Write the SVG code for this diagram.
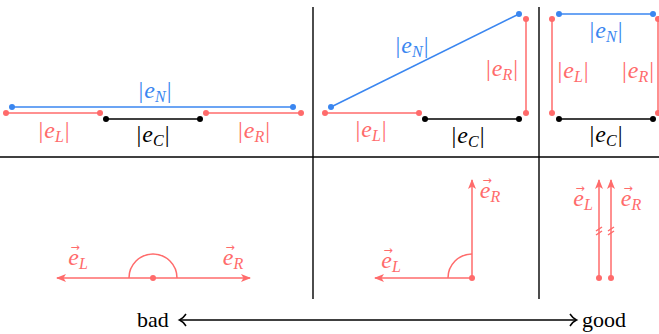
<svg xmlns="http://www.w3.org/2000/svg" width="659" height="334" viewBox="0 0 659 334">
<style>
.frame{stroke:#000;stroke-width:1.4;fill:none}
.b{stroke:#3a86f0;stroke-width:1.5;fill:none}
.r{stroke:#ff6b6b;stroke-width:1.5;fill:none}
.k{stroke:#000;stroke-width:1.5;fill:none}
.db{fill:#3a86f0}
.dr{fill:#ff6b6b}
.dk{fill:#000}
.lab{font-family:"Liberation Serif","DejaVu Serif",serif;font-size:24px;text-anchor:middle}
.i{font-style:italic}
.s{font-style:italic;font-size:16px}
.tb{fill:#3a86f0}
.tr{fill:#ff6b6b}
.tk{fill:#000}
.arr{font-family:"DejaVu Sans",sans-serif;font-size:11px;fill:#ff6b6b;text-anchor:middle}
.word{font-family:"Liberation Serif",serif;font-size:22px;fill:#000}
.va{stroke:#ff6b6b;stroke-width:1.5;fill:none;marker-end:url(#st)}
</style>
<defs>
<marker id="st" viewBox="0 0 10 8" refX="9" refY="4" markerWidth="10" markerHeight="8" markerUnits="userSpaceOnUse" orient="auto">
<path d="M0,0 L10,4 L0,8 L2.5,4 Z" fill="#ff6b6b"/>
</marker>
</defs>

<g id="grid">
<line class="frame" x1="0" y1="157" x2="659" y2="157"/>
<line class="frame" x1="313" y1="7" x2="313" y2="299"/>
<line class="frame" x1="539" y1="7" x2="539" y2="299"/>
</g>

<g id="connectors">
<line class="b" x1="12" y1="107" x2="293" y2="107"/>
<line class="r" x1="6" y1="113" x2="100" y2="113"/>
<line class="r" x1="206" y1="113" x2="301" y2="113"/>
<line class="k" x1="106" y1="119" x2="200" y2="119"/>
<line class="b" x1="331" y1="107" x2="519" y2="14"/>
<line class="r" x1="325" y1="113" x2="419" y2="113"/>
<line class="k" x1="425" y1="119" x2="519" y2="119"/>
<line class="r" x1="526" y1="19" x2="526" y2="113"/>
<line class="b" x1="559" y1="14" x2="653" y2="14"/>
<line class="r" x1="552" y1="19" x2="552" y2="113"/>
<line class="r" x1="658" y1="19" x2="658" y2="113"/>
<line class="k" x1="559" y1="119" x2="653" y2="119"/>
<line class="va" x1="153" y1="278" x2="57" y2="278"/>
<line class="va" x1="153" y1="278" x2="250" y2="278"/>
<path class="r" d="M129,278 A24,24 0 0 1 177,278"/>
<line class="va" x1="472" y1="278" x2="375" y2="278"/>
<line class="va" x1="472" y1="278" x2="472" y2="180"/>
<path class="r" d="M448,278 A24,24 0 0 1 472,254"/>
<line class="va" x1="599" y1="278" x2="599" y2="180"/>
<line class="va" x1="611" y1="278" x2="611" y2="180"/>
<path class="r" d="M596,231 L602,227 M596,235 L602,231 M608,231 L614,227 M608,235 L614,231" stroke-width="1.2"/>
<line class="k" x1="180" y1="320" x2="576" y2="320" stroke-width="1.3"/>
<path class="k" stroke-width="1.3" d="M186,314 Q183,318.5 179.5,320 Q183,321.5 186,326"/>
<path class="k" stroke-width="1.3" d="M570,314 Q573,318.5 576.5,320 Q573,321.5 570,326"/>
</g>

<g id="dots">
<circle class="db" cx="12" cy="107" r="3"/><circle class="db" cx="293" cy="107" r="3"/>
<circle class="dr" cx="6" cy="113" r="3"/><circle class="dr" cx="100" cy="113" r="3"/>
<circle class="dr" cx="206" cy="113" r="3"/><circle class="dr" cx="301" cy="113" r="3"/>
<circle class="dk" cx="106" cy="119" r="3"/><circle class="dk" cx="200" cy="119" r="3"/>
<circle class="db" cx="331" cy="107" r="3"/><circle class="db" cx="519" cy="14" r="3"/>
<circle class="dr" cx="325" cy="113" r="3"/><circle class="dr" cx="419" cy="113" r="3"/>
<circle class="dk" cx="425" cy="119" r="3"/><circle class="dk" cx="519" cy="119" r="3"/>
<circle class="dr" cx="526" cy="19" r="3"/><circle class="dr" cx="526" cy="113" r="3"/>
<circle class="db" cx="559" cy="14" r="3"/><circle class="db" cx="653" cy="14" r="3"/>
<circle class="dr" cx="552" cy="19" r="3"/><circle class="dr" cx="552" cy="113" r="3"/>
<circle class="dr" cx="658" cy="19" r="3"/><circle class="dr" cx="658" cy="113" r="3"/>
<circle class="dk" cx="559" cy="119" r="3"/><circle class="dk" cx="653" cy="119" r="3"/>
<circle class="dr" cx="153" cy="278" r="3"/>
<circle class="dr" cx="472" cy="278" r="3"/>
<circle class="dr" cx="599" cy="278" r="3"/><circle class="dr" cx="611" cy="278" r="3"/>
</g>

<g id="labels-p1">
<text class="lab tb" x="155" y="98">|<tspan class="i" dx="1">e</tspan><tspan class="s" dy="4">N</tspan><tspan dy="-4" dx="1">|</tspan></text>
<text class="lab tr" x="54" y="138">|<tspan class="i" dx="1">e</tspan><tspan class="s" dy="4">L</tspan><tspan dy="-4" dx="1">|</tspan></text>
<text class="lab tk" x="153" y="142">|<tspan class="i" dx="1">e</tspan><tspan class="s" dy="4">C</tspan><tspan dy="-4" dx="1">|</tspan></text>
<text class="lab tr" x="254" y="138">|<tspan class="i" dx="1">e</tspan><tspan class="s" dy="4">R</tspan><tspan dy="-4" dx="1">|</tspan></text>
</g>
<g id="labels-p2">
<text class="lab tb" x="412" y="53">|<tspan class="i" dx="1">e</tspan><tspan class="s" dy="4">N</tspan><tspan dy="-4" dx="1">|</tspan></text>
<text class="lab tr" x="502" y="76">|<tspan class="i" dx="1">e</tspan><tspan class="s" dy="4">R</tspan><tspan dy="-4" dx="1">|</tspan></text>
<text class="lab tr" x="371" y="137">|<tspan class="i" dx="1">e</tspan><tspan class="s" dy="4">L</tspan><tspan dy="-4" dx="1">|</tspan></text>
<text class="lab tk" x="468" y="143">|<tspan class="i" dx="1">e</tspan><tspan class="s" dy="4">C</tspan><tspan dy="-4" dx="1">|</tspan></text>
</g>
<g id="labels-p3">
<text class="lab tb" x="606" y="38">|<tspan class="i" dx="1">e</tspan><tspan class="s" dy="4">N</tspan><tspan dy="-4" dx="1">|</tspan></text>
<text class="lab tr" x="573" y="78">|<tspan class="i" dx="1">e</tspan><tspan class="s" dy="4">L</tspan><tspan dy="-4" dx="1">|</tspan></text>
<text class="lab tr" x="638" y="78">|<tspan class="i" dx="1">e</tspan><tspan class="s" dy="4">R</tspan><tspan dy="-4" dx="1">|</tspan></text>
<text class="lab tk" x="606" y="142">|<tspan class="i" dx="1">e</tspan><tspan class="s" dy="4">C</tspan><tspan dy="-4" dx="1">|</tspan></text>
</g>
<g id="vector-labels">
<text class="lab tr" x="78" y="265"><tspan class="i">e</tspan><tspan class="s" dy="4">L</tspan></text>
<text class="arr" x="75" y="251">→</text>
<text class="lab tr" x="233" y="265"><tspan class="i">e</tspan><tspan class="s" dy="4">R</tspan></text>
<text class="arr" x="230" y="251">→</text>
<text class="lab tr" x="490" y="198"><tspan class="i">e</tspan><tspan class="s" dy="4">R</tspan></text>
<text class="arr" x="487" y="184">→</text>
<text class="lab tr" x="391" y="268"><tspan class="i">e</tspan><tspan class="s" dy="4">L</tspan></text>
<text class="arr" x="388" y="254">→</text>
<text class="lab tr" x="583" y="206"><tspan class="i">e</tspan><tspan class="s" dy="4">L</tspan></text>
<text class="arr" x="580" y="192">→</text>
<text class="lab tr" x="631" y="206"><tspan class="i">e</tspan><tspan class="s" dy="4">R</tspan></text>
<text class="arr" x="628" y="192">→</text>
</g>
<g id="scale">
<text class="word" x="137" y="327">bad</text>
<text class="word" x="582" y="327">good</text>
</g>
</svg>
